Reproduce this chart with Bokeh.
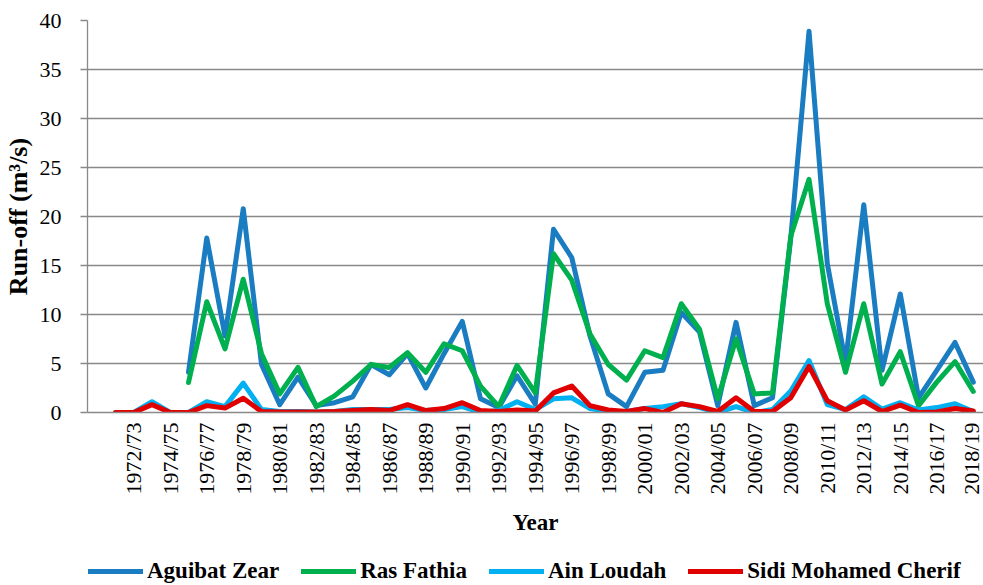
import math
from bokeh.plotting import figure
from bokeh.layouts import column
from bokeh.models import FixedTicker, Range1d, Legend, LegendItem, ColumnDataSource
from bokeh.embed import file_html
from bokeh.resources import INLINE

nan = float("nan")

years = ["1971/72", "1972/73", "1973/74", "1974/75", "1975/76", "1976/77", "1977/78", "1978/79",
         "1979/80", "1980/81", "1981/82", "1982/83", "1983/84", "1984/85", "1985/86", "1986/87",
         "1987/88", "1988/89", "1989/90", "1990/91", "1991/92", "1992/93", "1993/94", "1994/95",
         "1995/96", "1996/97", "1997/98", "1998/99", "1999/00", "2000/01", "2001/02", "2002/03",
         "2003/04", "2004/05", "2005/06", "2006/07", "2007/08", "2008/09", "2009/10", "2010/11",
         "2011/12", "2012/13", "2013/14", "2014/15", "2015/16", "2016/17", "2017/18", "2018/19"]

aguibat_zear = [nan, nan, nan, nan, 4.1, 17.8, 7.8, 20.8, 4.9, 0.8,
                3.6, 0.7, 1.0, 1.6, 4.9, 3.85, 6.0, 2.5, 6.0, 9.3,
                1.4, 0.5, 3.75, 0.85, 18.7, 15.8, 7.8, 1.9, 0.6, 4.1,
                4.3, 10.2, 8.2, 0.7, 9.2, 0.7, 1.5, 17.8, 38.9, 15.2,
                5.1, 21.2, 4.3, 12.1, 1.5, 4.3, 7.15, 3.1]

ras_fathia = [nan, nan, nan, nan, 3.06, 11.3, 6.5, 13.6, 6.0, 1.9,
              4.6, 0.6, 1.7, 3.2, 4.9, 4.6, 6.1, 4.1, 7.0, 6.3,
              2.7, 0.6, 4.8, 2.0, 16.2, 13.5, 8.0, 4.9, 3.3, 6.3,
              5.6, 11.1, 8.5, 1.4, 7.5, 1.9, 2.0, 18.0, 23.8, 11.1,
              4.1, 11.1, 2.9, 6.2, 0.7, 3.1, 5.2, 2.15]

ain_loudah = [0, 0, 1.1, 0, 0, 1.1, 0.6, 3.0, 0.3, 0.1,
              0.1, 0.05, 0.1, 0.3, 0.3, 0.3, 0.5, 0.2, 0.3, 0.6,
              0.0, 0.2, 1.1, 0.3, 1.4, 1.5, 0.4, 0.1, 0.1, 0.4,
              0.6, 0.9, 0.5, 0.0, 0.6, 0.0, 0.3, 2.2, 5.3, 0.8,
              0.3, 1.6, 0.35, 1.0, 0.25, 0.5, 0.9, 0.1]

sidi_mohamed_cherif = [0, 0, 0.8, 0, 0, 0.7, 0.45, 1.45, 0.1, 0.05,
                       0.05, 0.05, 0.1, 0.2, 0.3, 0.2, 0.8, 0.2, 0.4, 1.0,
                       0.2, 0.1, 0.25, 0.15, 2.0, 2.7, 0.7, 0.25, 0.1, 0.4,
                       0.0, 0.9, 0.6, 0.1, 1.5, 0.1, 0.1, 1.5, 4.7, 1.2,
                       0.25, 1.2, 0.1, 0.75, 0.0, 0.05, 0.4, 0.15]

y_ticks = [0, 5, 10, 15, 20, 25, 30, 35, 40]

series = [
    ("Aguibat Zear", aguibat_zear, "#1a7cc1"),
    ("Ras Fathia", ras_fathia, "#00b04f"),
    ("Ain Loudah", ain_loudah, "#00b0f0"),
    ("Sidi Mohamed Cherif", sidi_mohamed_cherif, "#e00000"),
]

FONT = "Liberation Serif"
GRAY = "#898989"

idx = list(range(len(years)))

# ---- main chart ----
p = figure(frame_width=896, frame_height=392, output_backend="svg", toolbar_location=None,
           x_range=Range1d(-1.534, 47.56), y_range=Range1d(0, 40),
           min_border_left=87, min_border_right=0, min_border_top=20, min_border_bottom=128)
p.outline_line_color = None
p.background_fill_color = "white"

for name, vals, color in series:
    src = ColumnDataSource(dict(x=idx, y=vals))
    p.line("x", "y", source=src, line_color=color, line_width=5,
           line_join="round", line_cap="round")

# x axis
p.xaxis.ticker = FixedTicker(ticks=[i for i in idx if i % 2 == 1])
p.xaxis.major_label_overrides = {i: years[i] for i in idx if i % 2 == 1}
p.xaxis.major_label_orientation = math.pi / 2
p.xaxis.major_tick_out = 0
p.xaxis.major_tick_in = 0
p.xaxis.minor_tick_line_color = None
p.xaxis.axis_line_color = GRAY
p.xaxis.axis_line_width = 1.3
p.xaxis.major_label_text_font = FONT
p.xaxis.major_label_text_font_size = "22px"
p.xaxis.major_label_text_color = "black"
p.xaxis.major_label_standoff = 10
p.xaxis.axis_label = "Year"
p.xaxis.axis_label_text_font = FONT
p.xaxis.axis_label_text_font_style = "bold"
p.xaxis.axis_label_text_font_size = "23px"
p.xaxis.axis_label_text_color = "black"
p.xaxis.axis_label_standoff = 12

# y axis
p.yaxis.ticker = FixedTicker(ticks=y_ticks)
p.yaxis.major_tick_out = 7
p.yaxis.major_tick_in = 0
p.yaxis.major_tick_line_color = GRAY
p.yaxis.major_tick_line_width = 1.3
p.yaxis.minor_tick_line_color = None
p.yaxis.axis_line_color = GRAY
p.yaxis.axis_line_width = 1.3
p.yaxis.major_label_text_font = FONT
p.yaxis.major_label_text_font_size = "22px"
p.yaxis.major_label_text_color = "black"
p.yaxis.major_label_standoff = 19
p.yaxis.axis_label = "Run-off (m³/s)"
p.yaxis.axis_label_text_font = FONT
p.yaxis.axis_label_text_font_style = "bold"
p.yaxis.axis_label_text_font_size = "26px"
p.yaxis.axis_label_text_color = "black"
p.yaxis.axis_label_standoff = 4

p.xgrid.grid_line_color = None
p.ygrid.ticker = FixedTicker(ticks=y_ticks)
p.ygrid.grid_line_color = GRAY
p.ygrid.grid_line_width = 1.3

# ---- legend strip (same series, drawn outside its visible range; only the legend shows) ----
lg = figure(width=983, height=45, output_backend="svg", toolbar_location=None,
            x_range=Range1d(-1.534, 47.56), y_range=Range1d(1000, 1001),
            x_axis_location=None, y_axis_location=None,
            min_border_left=87, min_border_right=0, min_border_top=0, min_border_bottom=0)
lg.grid.grid_line_color = None
lg.outline_line_color = None

items = []
for name, vals, color in series:
    src = ColumnDataSource(dict(x=idx, y=vals))
    r = lg.line("x", "y", source=src, line_color=color, line_width=5, line_cap="round")
    items.append(LegendItem(label=name, renderers=[r]))

legend = Legend(items=items, orientation="horizontal", location=(1, 1),
                spacing=22, glyph_width=55, glyph_height=20, label_standoff=4,
                label_text_font=FONT, label_text_font_style="bold",
                label_text_font_size="23px", label_text_color="black",
                border_line_color=None, background_fill_alpha=0,
                padding=2, margin=0)
lg.add_layout(legend, "center")

layout = column(p, lg, spacing=0)

open("out.html", "w").write(file_html(layout, INLINE))
